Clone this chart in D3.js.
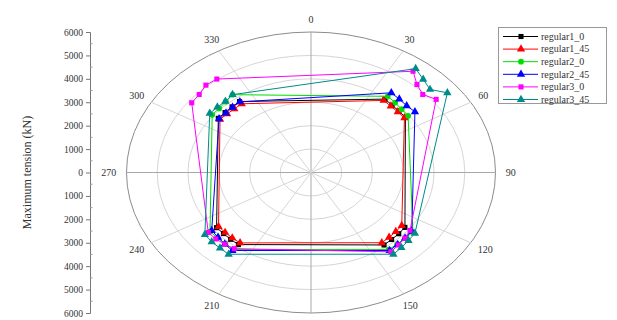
<!DOCTYPE html>
<html>
<head>
<meta charset="utf-8">
<script src="https://cdn.jsdelivr.net/npm/d3@7"></script>
<style>
  html, body { margin: 0; padding: 0; background: #fff; }
  svg { display: block; }
  svg text { font-family: "Liberation Serif", "DejaVu Serif", serif; }
</style>
</head>
<body>
<svg id="chart" width="617" height="320"></svg>
<script>
// Mooring line headings (deg), four lines per corner
const headings = [37.5, 42.5, 47.5, 52.5, 127.5, 132.5, 137.5, 142.5,
                  217.5, 222.5, 227.5, 232.5, 307.5, 312.5, 317.5, 322.5];

// Maximum tension per line (kN)
const regular1_0  = [3950, 3900, 3880, 3870, 3850, 3870, 3880, 3900, 3880, 3870, 3860, 3870, 3800, 3790, 3800, 3820];
const regular1_45 = [3880, 3840, 3830, 3830, 3720, 3740, 3760, 3780, 3790, 3790, 3790, 3790, 3730, 3700, 3690, 3700];
const regular2_0  = [4100, 4050, 4000, 3980, 4180, 4150, 4150, 4150, 4150, 4120, 4130, 4140, 4050, 4050, 4100, 4190];
const regular2_45 = [4290, 4250, 4220, 4260, 4130, 4150, 4170, 4200, 4200, 4150, 4100, 4070, 3770, 3750, 3780, 3800];
const regular3_0  = [5450, 5100, 4930, 5130, 4060, 4150, 4200, 4270, 4100, 4150, 4200, 4210, 4890, 4930, 5060, 5030];
const regular3_45 = [5590, 5400, 5250, 5590, 4260, 4300, 4350, 4400, 4400, 4380, 4380, 4350, 4150, 4130, 4120, 4190];

const seriesNames = ["regular1_0", "regular1_45", "regular2_0", "regular2_45", "regular3_0", "regular3_45"];
const seriesValues = [regular1_0, regular1_45, regular2_0, regular2_45, regular3_0, regular3_45];
const seriesColors = ["#000000", "#ff0000", "#00dd00", "#0000ff", "#ff00ff", "#008b8b"];
const seriesSymbols = [d3.symbolSquare, d3.symbolTriangle, d3.symbolCircle, d3.symbolTriangle, d3.symbolSquare, d3.symbolTriangle];

const angleTicks = [0, 30, 60, 90, 120, 150, 180, 210, 240, 270, 300, 330];
const angleLabels = [0, 30, 60, 90, 120, 150, 210, 240, 270, 300, 330];
const ringTicks = [1000, 2000, 3000, 4000, 5000, 6000];
const axisTicks = [6000, 5000, 4000, 3000, 2000, 1000, 0, -1000, -2000, -3000, -4000, -5000, -6000];

const FONT = "Liberation Serif, DejaVu Serif, serif";
const svg = d3.select("#chart");

// Elliptical polar frame
const cx = 311, cy = 172.5, RX = 184.5, RY = 140.5;
const rMax = 6000;
const rx = d3.scaleLinear().domain([0, rMax]).range([0, RX]);
const ry = d3.scaleLinear().domain([0, rMax]).range([0, RY]);
const ang = d3.scaleLinear().domain([0, 360]).range([0, 2 * Math.PI]);

const px = (deg, v) => cx + rx(v) * Math.sin(ang(deg));
const py = (deg, v) => cy - ry(v) * Math.cos(ang(deg));

const grid = svg.append("g");

// rings
grid.selectAll("ellipse.ring")
  .data(ringTicks)
  .join("ellipse")
  .attr("cx", cx).attr("cy", cy)
  .attr("rx", d => rx(d)).attr("ry", d => ry(d))
  .attr("fill", "none")
  .attr("stroke", d => d === rMax ? "#8c8c8c" : "#d6d6d6")
  .attr("stroke-width", 1);

// spokes
grid.selectAll("line.spoke")
  .data(angleTicks)
  .join("line")
  .attr("x1", cx).attr("y1", cy)
  .attr("x2", d => px(d, rMax)).attr("y2", d => py(d, rMax))
  .attr("stroke", d => d % 90 === 0 ? "#a8a8a8" : "#d6d6d6")
  .attr("stroke-width", 1);

// angle labels
grid.selectAll("text.ang")
  .data(angleLabels)
  .join("text")
  .attr("x", d => {
    const s = Math.sin(ang(d));
    const w = String(d).length * 2.6;
    return cx + (RX + 10 + w * Math.abs(s)) * s;
  })
  .attr("y", d => cy - (RY + 13) * Math.cos(ang(d)) + 3.5)
  .attr("text-anchor", "middle")
  .attr("font-family", FONT)
  .attr("font-size", 10)
  .attr("fill", "#333")
  .text(d => d);

// left value axis
const yAxisScale = d3.scaleLinear().domain([-rMax, rMax]).range([cy + RY, cy - RY]);
const axisG = svg.append("g").attr("transform", "translate(90,0)");
axisG.call(d3.axisLeft(yAxisScale).tickValues(axisTicks).tickSize(4).tickFormat(d => Math.abs(d)))
  .attr("font-family", FONT)
  .call(g => g.select(".domain").attr("stroke", "#777"))
  .call(g => g.selectAll(".tick line").attr("stroke", "#777"))
  .call(g => g.selectAll(".tick text").attr("font-family", FONT).attr("font-size", 9.5).attr("fill", "#333").attr("x", -7));
axisG.selectAll("line.minor")
  .data(d3.range(-5500, 6000, 1000))
  .join("line")
  .attr("x1", 0).attr("x2", 2.5)
  .attr("y1", d => yAxisScale(d)).attr("y2", d => yAxisScale(d))
  .attr("stroke", "#999");

svg.append("text")
  .attr("transform", `translate(31,${cy}) rotate(-90)`)
  .attr("text-anchor", "middle")
  .attr("font-family", FONT)
  .attr("font-size", 12)
  .attr("fill", "#333")
  .text("Maximum tension (kN)");

// series polygons and markers
const line = d3.line().curve(d3.curveLinearClosed);
const symSize = s => s === d3.symbolTriangle ? 30 : 26;
const plot = svg.append("g");
seriesValues.forEach((vals, i) => {
  const pts = headings.map((h, j) => [px(h, vals[j]), py(h, vals[j])]);
  plot.append("path")
    .attr("d", line(pts))
    .attr("fill", "none")
    .attr("stroke", seriesColors[i])
    .attr("stroke-width", 1);
  plot.append("g").selectAll("path")
    .data(pts)
    .join("path")
    .attr("transform", d => `translate(${d[0]},${d[1]})`)
    .attr("d", d3.symbol().type(seriesSymbols[i]).size(symSize(seriesSymbols[i])))
    .attr("fill", seriesColors[i]);
});

// legend
const lg = svg.append("g");
lg.append("rect")
  .attr("x", 498.5).attr("y", 27.5).attr("width", 108).attr("height", 76)
  .attr("fill", "#fff").attr("stroke", "#999");
const rowY = d3.scaleLinear().domain([0, 5]).range([36.5, 99.5]);
seriesNames.forEach((name, i) => {
  const y = rowY(i);
  lg.append("line").attr("x1", 503).attr("x2", 538).attr("y1", y).attr("y2", y)
    .attr("stroke", seriesColors[i]).attr("stroke-width", 1);
  lg.append("path").attr("transform", `translate(521,${y})`)
    .attr("d", d3.symbol().type(seriesSymbols[i]).size(symSize(seriesSymbols[i])))
    .attr("fill", seriesColors[i]);
  lg.append("text").attr("x", 541).attr("y", y + 3.3)
    .attr("font-family", FONT)
    .attr("font-size", 10).attr("fill", "#333").text(name);
});
</script>
</body>
</html>
